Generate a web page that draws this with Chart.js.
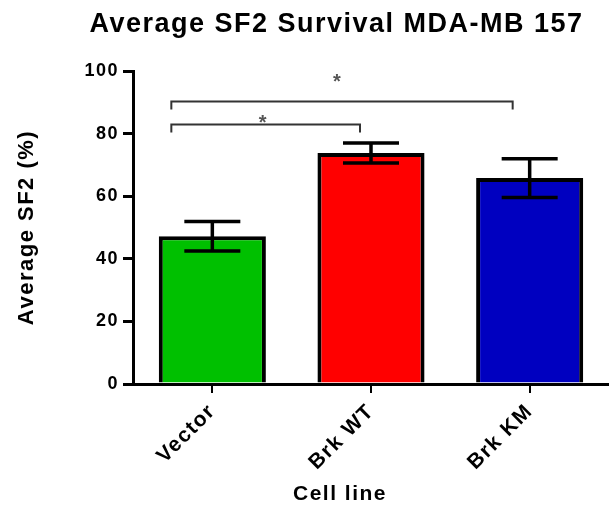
<!DOCTYPE html>
<html>
<head>
<meta charset="utf-8">
<script src="https://cdn.jsdelivr.net/npm/chart.js@4.4.1/dist/chart.umd.min.js"></script>
<style>
  html, body { margin: 0; padding: 0; background: #fff; }
  #wrap { width: 609px; height: 508px; }
</style>
</head>
<body>
<div id="wrap"><canvas id="c" width="609" height="508"></canvas></div>
<script>
// Cell lines and mean SF2 survival (%) with SEM
const categories = ['Vector', 'Brk WT', 'Brk KM'];
const meanSF2 = [47.2, 73.8, 65.8];
const semSF2 = [4.7, 3.2, 6.2];
const barColors = ['#00C000', '#FF0000', '#0000C0'];

// Significance brackets: [from index, to index], bracket height (%), label
const compPairs = [[0, 1], [0, 2]];
const compLevels = [83.2, 90.4];
const compLabels = ['*', '*'];

const xAxisTitle = 'Cell line';

const FONT = '"Liberation Sans", Arial, sans-serif';
const TRACK = '1.5px';

// Slightly wider text tracking for all canvas text
const tracking = {
  id: 'tracking',
  afterInit(chart) { chart.ctx.letterSpacing = TRACK; },
  beforeUpdate(chart) { chart.ctx.letterSpacing = TRACK; },
  beforeDraw(chart) { chart.ctx.letterSpacing = TRACK; },
  afterLayout(chart) {
    // nudge the heading so it sits over the plot
    const t = chart.titleBlock;
    if (t) { t.left += 32; t.right += 32; }
  }
};

// x-axis caption, centred under the plot like the heading
const xCaption = {
  id: 'xCaption',
  afterDraw(chart) {
    const ctx = chart.ctx;
    ctx.save();
    ctx.letterSpacing = TRACK;
    ctx.fillStyle = '#000';
    ctx.font = 'bold 21px ' + FONT;
    ctx.textAlign = 'center';
    ctx.textBaseline = 'middle';
    ctx.fillText(xAxisTitle, 340, 494);
    ctx.restore();
  }
};

const errorBars = {
  id: 'errorBars',
  afterDatasetsDraw(chart) {
    const ctx = chart.ctx;
    const y = chart.scales.y;
    const meta = chart.getDatasetMeta(0);
    ctx.save();
    ctx.strokeStyle = '#000';
    ctx.lineWidth = 3.5;
    meta.data.forEach((bar, i) => {
      const x = bar.x;
      const top = y.getPixelForValue(meanSF2[i] + semSF2[i]);
      const bot = y.getPixelForValue(meanSF2[i] - semSF2[i]);
      const cap = 28;
      ctx.beginPath();
      ctx.moveTo(x, top); ctx.lineTo(x, bot);
      ctx.moveTo(x - cap, top); ctx.lineTo(x + cap, top);
      ctx.moveTo(x - cap, bot); ctx.lineTo(x + cap, bot);
      ctx.stroke();
    });
    ctx.restore();
  }
};

const brackets = {
  id: 'brackets',
  afterDatasetsDraw(chart) {
    const ctx = chart.ctx;
    const xs = chart.scales.x;
    const y = chart.scales.y;
    const rightInset = [11, 17];
    const starLift = [7, 25];
    const starShift = [-3, -5];
    ctx.save();
    ctx.letterSpacing = '0px';
    ctx.strokeStyle = '#333';
    ctx.lineWidth = 2;
    ctx.fillStyle = '#555';
    ctx.font = 'bold 20px ' + FONT;
    ctx.textAlign = 'center';
    ctx.textBaseline = 'alphabetic';
    compPairs.forEach((p, i) => {
      const x1 = xs.getPixelForValue(p[0]) - 41;
      const x2 = xs.getPixelForValue(p[1]) - rightInset[i];
      const yy = Math.round(y.getPixelForValue(compLevels[i])) + 0.5;
      ctx.beginPath();
      ctx.moveTo(x1, yy + 8); ctx.lineTo(x1, yy); ctx.lineTo(x2, yy); ctx.lineTo(x2, yy + 8);
      ctx.stroke();
      ctx.fillText(compLabels[i], (x1 + x2) / 2 + starShift[i], yy - starLift[i] + 11.5);
    });
    ctx.restore();
  }
};

new Chart(document.getElementById('c'), {
  type: 'bar',
  data: {
    labels: categories,
    datasets: [{
      data: meanSF2,
      backgroundColor: barColors,
      borderColor: '#000',
      borderWidth: 4,
      borderSkipped: 'bottom',
      barPercentage: 0.675,
      categoryPercentage: 1.0
    }]
  },
  options: {
    responsive: false,
    animation: false,
    layout: { padding: { top: 0, right: 0, bottom: 0, left: 0 } },
    plugins: {
      legend: { display: false },
      tooltip: { enabled: false },
      title: {
        display: true,
        text: 'Average SF2 Survival MDA-MB 157',
        color: '#000',
        font: { family: FONT, size: 27, weight: 'bold' },
        padding: { top: 8, bottom: 30.6 }
      }
    },
    scales: {
      x: {
        offset: true,
        border: { display: true, color: '#000', width: 3 },
        grid: { display: true, offset: false, drawOnChartArea: false, color: '#000', lineWidth: 2, tickLength: 9 },
        ticks: {
          color: '#000',
          minRotation: 45, maxRotation: 45,
          font: { family: FONT, size: 21, weight: 'bold' },
          padding: 6
        },
        afterFit(scale) { scale.height = 124; }
      },
      y: {
        min: 0, max: 100,
        border: { display: true, color: '#000', width: 3 },
        grid: { display: true, drawOnChartArea: false, color: '#000', lineWidth: 3, tickLength: 10 },
        ticks: {
          stepSize: 20,
          color: '#000',
          font: { family: FONT, size: 18, weight: 'bold' },
          padding: 4
        },
        title: {
          display: true,
          text: 'Average SF2 (%)',
          color: '#000',
          font: { family: FONT, size: 22, weight: 'bold' },
          padding: { top: 14, bottom: 0 }
        },
        afterFit(scale) { scale.width = 133; }
      }
    }
  },
  plugins: [tracking, errorBars, brackets, xCaption]
});
</script>
</body>
</html>
